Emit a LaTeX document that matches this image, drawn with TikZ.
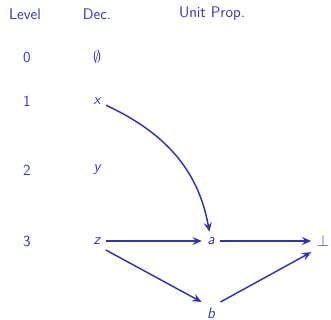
\documentclass[tikz,border=0pt]{standalone}
\usetikzlibrary{arrows.meta}
\definecolor{structblue}{rgb}{0.2,0.2,0.7}
\tikzset{
  lbl/.style={font=\sffamily\fontsize{11.5}{14}\selectfont,text=structblue,inner sep=4pt},
  var/.style={font=\sffamily\fontsize{11.5}{14}\selectfont\itshape,text=structblue,inner sep=4pt},
  prop/.style={->,>={Stealth[length=7pt,width=6pt,inset=2.5pt]},line width=1.1pt,draw=structblue}
}
\begin{document}
\begin{tikzpicture}[x=0.75pt,y=0.75pt]
\useasboundingbox (0,0) rectangle (331,320);
% column headers
\node[lbl] (lvlhead) at (25,306) {Level};
\node[lbl] (dechead) at (97,306) {Dec.};
\node[lbl] (uphead) at (212,306) {Unit Prop.};
% levels
\node[lbl] (l0) at (27,263) {0};
\node[lbl] (l1) at (27,219) {1};
\node[lbl] (l2) at (27,150) {2};
\node[lbl] (l3) at (27,79) {3};
% decisions
\node[var] (d0) at (97,263) {$\emptyset$};
\node[var] (x) at (97,219) {x};
\node[var] (y) at (97,150) {y};
\node[var] (z) at (97,79) {z};
% implied literals
\node[var] (a) at (211,79) {a};
\node[var] (b) at (211,7) {b};
\node[lbl] (bot) at (323,79) {$\bot$};
% implications
\draw[prop] (x) to[out=-25,in=100] (a);
\draw[prop] (z) -- (a);
\draw[prop] (a) -- (bot);
\draw[prop] (z.south east) -- (b.north west);
\draw[prop] (b.north east) -- (bot.south west);
\end{tikzpicture}
\end{document}
